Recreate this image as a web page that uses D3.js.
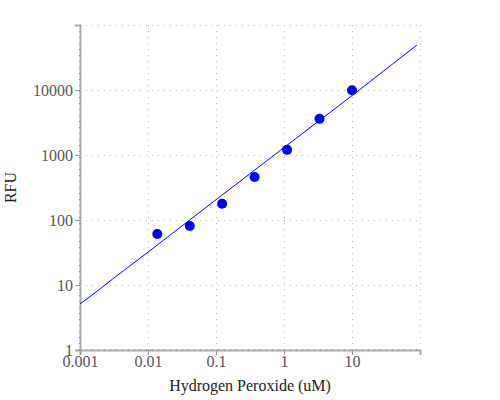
<!DOCTYPE html>
<html>
<head>
<meta charset="utf-8">
<script src="https://cdn.jsdelivr.net/npm/d3@7"></script>
<style>
  body { margin: 0; background: #fff; }
</style>
</head>
<body>
<div id="chart"></div>
<script>
var serif = "'Liberation Serif', 'Times New Roman', 'DejaVu Serif', serif";

// measured points (x = uM, y = RFU)
var concentrations = [0.0137, 0.0412, 0.123, 0.37, 1.11, 3.33, 10];
var rfuValues = [61, 81, 178, 460, 1200, 3600, 9900];

// fitted curve
var fitX = [0.001, 0.0015, 0.002, 0.003, 0.005, 0.01, 0.1, 1, 10, 90];
var fitY = [5.1, 7.0, 8.8, 12.3, 18.5, 32, 205, 1300, 8200, 49000];

var xTicks = [0.001, 0.01, 0.1, 1, 10];
var yTicks = [1, 10, 100, 1000, 10000];
var xGrid = [0.01, 0.1, 1, 10, 100];
var yGrid = [10, 100, 1000, 10000, 100000];

var width = 500, height = 400;
var margin = {top: 25, right: 80, bottom: 50, left: 80};

var svg = d3.select("#chart").append("svg")
    .attr("width", width)
    .attr("height", height);

var x = d3.scaleLog()
    .domain([0.001, 100])
    .range([margin.left, width - margin.right]);

var y = d3.scaleLog()
    .domain([1, 100000])
    .range([height - margin.bottom, margin.top]);

//dotted grid
svg.append("g").selectAll("line")
    .data(xGrid).enter().append("line")
    .attr("x1", d => Math.round(x(d)) + 0.5)
    .attr("x2", d => Math.round(x(d)) + 0.5)
    .attr("y1", y(1))
    .attr("y2", y(100000))
    .attr("stroke", "#b8b8b8")
    .attr("stroke-dasharray", "1,5");

svg.append("g").selectAll("line")
    .data(yGrid).enter().append("line")
    .attr("x1", x(0.001))
    .attr("x2", x(100))
    .attr("y1", d => Math.round(y(d)) + 0.5)
    .attr("y2", d => Math.round(y(d)) + 0.5)
    .attr("stroke", "#b8b8b8")
    .attr("stroke-dasharray", "1,5");

//axes
var xAxis = svg.append("g")
    .attr("transform", "translate(0," + y(1) + ")")
    .call(d3.axisBottom(x).tickValues(xTicks).tickFormat(d3.format("~g")).tickSize(5).tickPadding(1));

var yAxis = svg.append("g")
    .attr("transform", "translate(" + x(0.001) + ",0)")
    .call(d3.axisLeft(y).tickValues(yTicks).tickFormat(d3.format("d")).tickSize(5).tickPadding(2));

for (var ax of [xAxis, yAxis]) {
  ax.attr("font-family", serif).attr("font-size", 16);
  ax.select(".domain").attr("stroke", "#aaa").attr("stroke-width", 2);
  ax.selectAll(".tick line").attr("stroke", "#999");
  ax.selectAll(".tick text")
    .attr("fill", "#555")
    .attr("font-family", serif)
    .attr("font-size", 16);
}

// darker little marks along the axis lines
svg.append("line")
    .attr("x1", x(0.001)).attr("x2", x(100))
    .attr("y1", y(1)).attr("y2", y(1))
    .attr("stroke", "#999").attr("stroke-width", 2)
    .attr("stroke-dasharray", "1,5");
svg.append("line")
    .attr("x1", x(0.001)).attr("x2", x(0.001))
    .attr("y1", y(1)).attr("y2", y(100000))
    .attr("stroke", "#999").attr("stroke-width", 2)
    .attr("stroke-dasharray", "1,5");

//fit line
var line = d3.line()
    .x(d => x(d[0]))
    .y(d => y(d[1]));

svg.append("path")
    .datum(d3.zip(fitX, fitY))
    .attr("fill", "none")
    .attr("stroke", "#0000ff")
    .attr("stroke-width", 1)
    .attr("d", line);

//points
svg.append("g").selectAll("circle")
    .data(d3.zip(concentrations, rfuValues)).enter().append("circle")
    .attr("cx", d => x(d[0]))
    .attr("cy", d => y(d[1]))
    .attr("r", 5)
    .attr("fill", "#0000ff");

//axis titles
svg.append("text")
    .attr("x", (x(0.001) + x(100)) / 2)
    .attr("y", 391)
    .attr("text-anchor", "middle")
    .attr("fill", "#222")
    .attr("font-family", serif)
    .attr("font-size", 16)
    .text("Hydrogen Peroxide (uM)");

svg.append("text")
    .attr("transform", "translate(16," + (y(1) + y(100000)) / 2 + ") rotate(-90)")
    .attr("text-anchor", "middle")
    .attr("fill", "#222")
    .attr("font-family", serif)
    .attr("font-size", 16)
    .text("RFU");
</script>
</body>
</html>
